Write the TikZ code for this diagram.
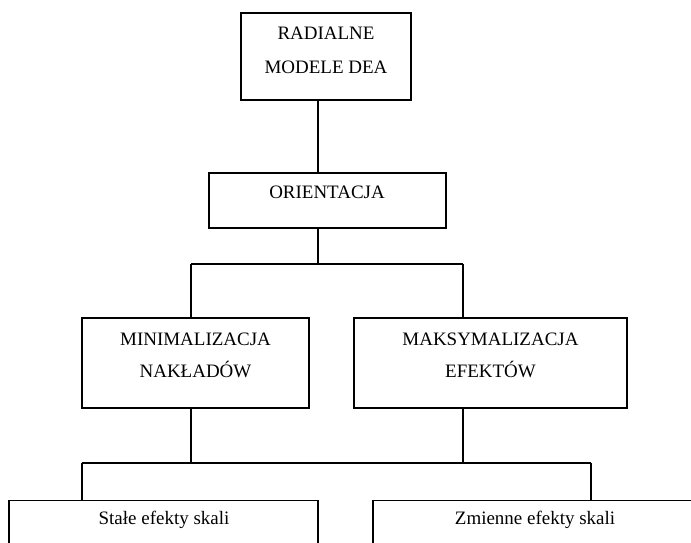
\documentclass[tikz,border=0pt]{standalone}
\usepackage{fontspec}
\setmainfont{Liberation Serif}

\tikzset{
	box/.style={draw, line width=0.8pt, inner sep=0pt},
	txt/.style={align=center, inner sep=0pt, font=\fontsize{10.8}{19.3}\selectfont},
	link/.style={line width=0.8pt}
}

\begin{document}
\begin{tikzpicture}[x=0.02cm, y=-0.02cm]
		\useasboundingbox (0,0) rectangle (691,543);
		\clip (0,0) rectangle (691,543);

		% boxes
		\node[box, minimum width=170*0.02cm, minimum height=87*0.02cm] (radial) at (326,56.5) {};
		\node[box, minimum width=237*0.02cm, minimum height=55*0.02cm] (orient) at (327.5,200.5) {};
		\node[box, minimum width=227*0.02cm, minimum height=90*0.02cm] (minim) at (195.5,363) {};
		\node[box, minimum width=273*0.02cm, minimum height=90*0.02cm] (maks) at (490.5,363) {};
		\node[box, minimum width=309*0.02cm, minimum height=80*0.02cm, anchor=north] (stale) at (163.5,500) {};
		\node[box, minimum width=325*0.02cm, minimum height=80*0.02cm, anchor=north] (zmien) at (535.5,500) {};

		% texts
		\node[txt] (radialT) at (326,50) {RADIALNE\\MODELE DEA};
		\node[txt, anchor=base] (orientT) at (327,199) {ORIENTACJA};
		\node[txt, font=\fontsize{10.8}{18.2}\selectfont] (minimT) at (195.5,355.5) {MINIMALIZACJA\\NAKŁADÓW};
		\node[txt, font=\fontsize{10.8}{18.2}\selectfont] (maksT) at (490.5,355.5) {MAKSYMALIZACJA\\EFEKTÓW};
		\node[txt, anchor=base] (staleT) at (164,525) {Stałe efekty skali};
		\node[txt, anchor=base] (zmienT) at (535,525) {Zmienne efekty skali};

		% junctions
		\coordinate (top) at (318,264);
		\coordinate (b1l) at (191,264);
		\coordinate (b1r) at (463,264);
		\coordinate (b2l) at (82,463);
		\coordinate (b2r) at (591,463);

		\begin{scope}[link]
			\draw (radial.south -| top) -- (orient.north -| top);
			\draw (orient.south -| top) -- (top);
			\draw (b1l) -- (b1r);
			\draw (b1l) -- (minim.north -| b1l);
			\draw (b1r) -- (maks.north -| b1r);

			\draw (minim.south -| b1l) -- (b1l |- b2l);
			\draw (maks.south -| b1r) -- (b1r |- b2r);
			\draw (b2l) -- (b2r);
			\draw (b2l) -- (stale.north -| b2l);
			\draw (b2r) -- (zmien.north -| b2r);
		\end{scope}

	\end{tikzpicture}
\end{document}
